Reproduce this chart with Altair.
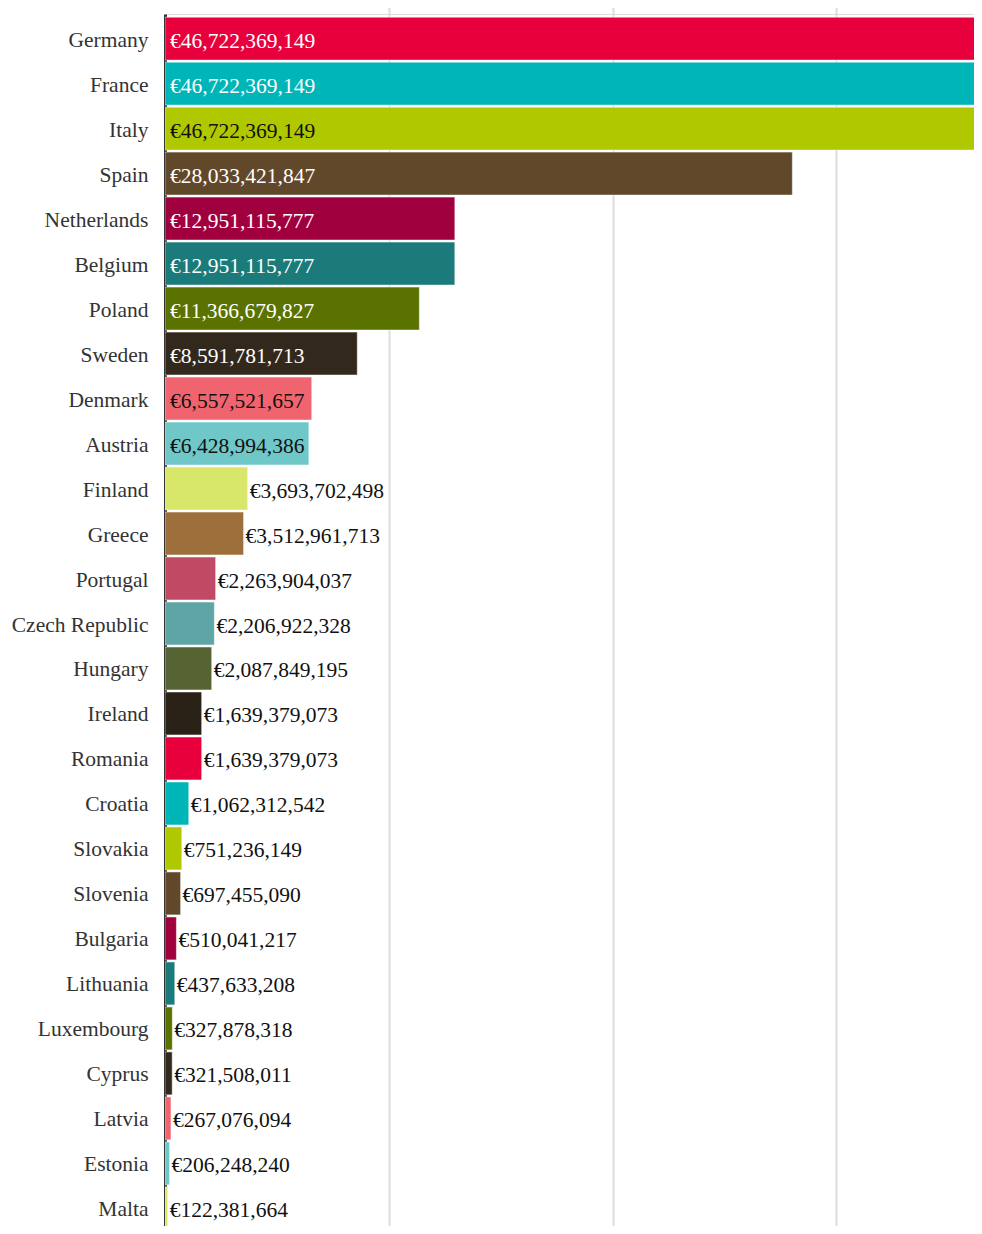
import altair as alt
import pandas as pd

countries = ["Germany", "France", "Italy", "Spain", "Netherlands", "Belgium", "Poland",
             "Sweden", "Denmark", "Austria", "Finland", "Greece", "Portugal",
             "Czech Republic", "Hungary", "Ireland", "Romania", "Croatia", "Slovakia",
             "Slovenia", "Bulgaria", "Lithuania", "Luxembourg", "Cyprus", "Latvia",
             "Estonia", "Malta"]
values = [46722369149, 46722369149, 46722369149, 28033421847, 12951115777, 12951115777,
          11366679827, 8591781713, 6557521657, 6428994386, 3693702498, 3512961713,
          2263904037, 2206922328, 2087849195, 1639379073, 1639379073, 1062312542,
          751236149, 697455090, 510041217, 437633208, 327878318, 321508011,
          267076094, 206248240, 122381664]
palette = ["#E8003D", "#00B5B8", "#AFC800", "#62482A", "#A1003F", "#1B7A7A", "#5A7200",
           "#33281C", "#F0646F", "#6FC7C7", "#D8E66A", "#9D6F3A", "#C04A63", "#60A5A5",
           "#566332", "#2A2117"]
light_colors = ["#AFC800", "#F0646F", "#6FC7C7", "#D8E66A"]

rows = []
for i, (c, v) in enumerate(zip(countries, values)):
    col = palette[i % len(palette)]
    inside = v > 5e9
    if inside:
        tc = "#111111" if col in light_colors else "#FFFFFF"
    else:
        tc = "#111111"
    rows.append({"country": c, "value": v, "color": col,
                 "label": "€{:,}".format(v), "inside": inside, "tcolor": tc})
df = pd.DataFrame(rows)

FONT = "Liberation Serif"
FS = 21.5
XMAX = 36.15e9

y_scale = alt.Scale(paddingInner=0.045, paddingOuter=0.07, range=[0, 1219])
y_axis = alt.Axis(title=None, labelFont=FONT, labelFontSize=FS,
                  labelColor="#333333", ticks=False, labelPadding=17, labelOffset=2,
                  domainColor="#333333", domainWidth=3, grid=False)
y_enc = alt.Y("country:N", sort=countries, scale=y_scale, axis=y_axis)
x_scale = alt.Scale(domain=[0, XMAX], nice=False, zero=True)
x_axis = alt.Axis(title=None, labels=False, ticks=False, domain=False,
                  values=[1e10, 2e10, 3e10], grid=True,
                  gridColor="#DDDDDD", gridWidth=2)
x_enc = alt.X("value:Q", scale=x_scale, axis=x_axis)

base = alt.Chart(df)

bars = base.mark_bar(clip=True, stroke="#FFFFFF", strokeOpacity=0.5, strokeWidth=1).encode(
    y=y_enc,
    x=x_enc,
    color=alt.Color("color:N", scale=None),
)

inside_text = base.transform_filter("datum.inside").mark_text(
    align="left", baseline="middle", font=FONT, fontSize=FS, dy=3
).encode(
    y=y_enc,
    x=alt.value(5),
    text="label:N",
    color=alt.Color("tcolor:N", scale=None),
)

outside_text = base.transform_filter("!datum.inside").mark_text(
    align="left", baseline="middle", font=FONT, fontSize=FS, dx=2, dy=3
).encode(
    y=y_enc,
    x=x_enc,
    text="label:N",
    color=alt.value("#111111"),
)

chart = alt.layer(bars, inside_text, outside_text).properties(
    width=809, height=1212,
    autosize=alt.AutoSizeParams(type="none"),
    padding={"left": 157, "top": 6, "right": 0, "bottom": 0},
).configure_view(stroke=None).configure_axisX(domain=False).configure(background="white")

chart.save("out.html", embed_options={"renderer": "svg", "actions": False})
